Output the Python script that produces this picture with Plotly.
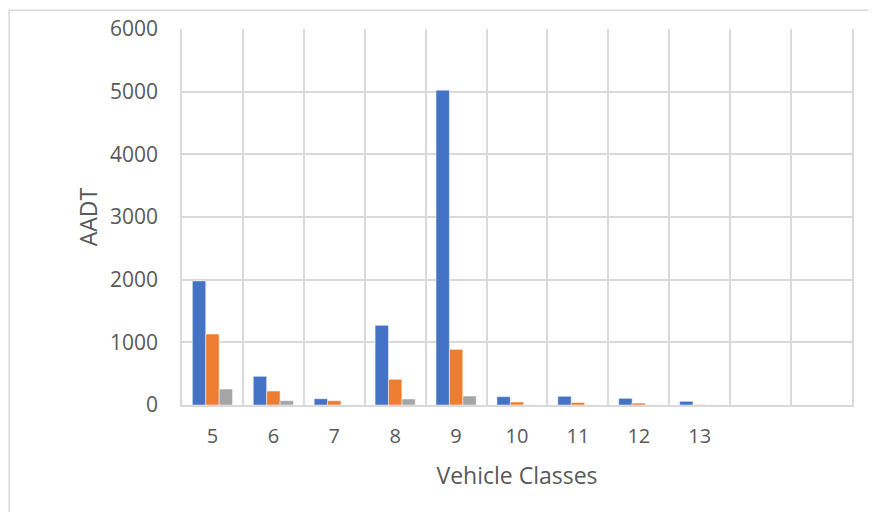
import plotly.graph_objects as go

# vehicle classes (last two slots are empty in the original chart)
classes = [5, 6, 7, 8, 9, 10, 11, 12, 13, 14, 15]
tick_labels = ["5", "6", "7", "8", "9", "10", "11", "12", "13"]
series_1 = [1980, 458, 100, 1271, 5024, 133, 139, 107, 59, None, None]
series_2 = [1132, 223, 69, 410, 888, 48, 40, 30, 5, None, None]
series_3 = [255, 69, 2, 96, 144, 3, 2, 2, 1, None, None]

colors = ["#4472C4", "#ED7D31", "#A5A5A5"]

fig = go.Figure()
for vals, col in zip([series_1, series_2, series_3], colors):
    fig.add_trace(go.Bar(x=classes, y=vals, marker=dict(color=col, line=dict(color="white", width=0.5))))

#outer chart border like excel (page has 8px offset)
fig.add_shape(type="rect", xref="paper", yref="paper", x0=-0.258, x1=1.2, y0=-0.6, y1=1.05,
              line=dict(color="#d9d9d9", width=1.5), fillcolor="rgba(0,0,0,0)", layer="below")

grid = "#d9d9d9"
fig.update_layout(
    width=868, height=504,
    margin=dict(l=174, r=24, t=21, b=107),
    paper_bgcolor="white", plot_bgcolor="white",
    showlegend=False,
    barmode="group", bargap=0.34, bargroupgap=0,
    font=dict(family="Open Sans", size=19, color="#595959"),
    xaxis=dict(title=dict(text="Vehicle Classes", standoff=20), range=[4.5, 15.5],
               tickmode="array", tickvals=classes[:len(tick_labels)], ticktext=tick_labels,
               tickfont=dict(size=20), showgrid=False, automargin=False,
               minor=dict(tickvals=[c - 0.5 for c in classes] + [15.5], showgrid=True,
                          gridcolor=grid, gridwidth=1.5),
               showline=True, linecolor=grid, linewidth=1.5, zeroline=False,
               ticks="", ticklabelstandoff=12),
    yaxis=dict(title=dict(text="AADT", standoff=6), range=[0, 6000], dtick=1000,
               tickfont=dict(size=21), automargin=False,
               showgrid=True, gridcolor=grid, gridwidth=1.5, zeroline=False,
               showline=True, linecolor=grid, linewidth=1.5, mirror=True,
               ticks="", ticklabelstandoff=18),
)

fig.write_html("out.html")
